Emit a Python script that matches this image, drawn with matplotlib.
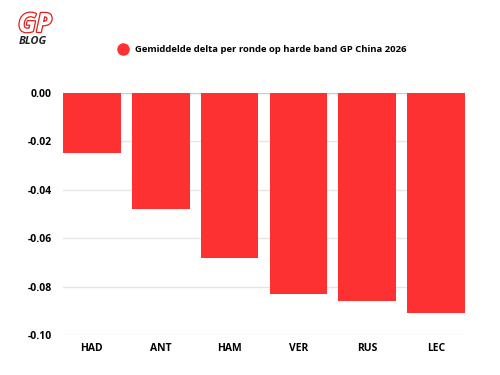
import matplotlib
matplotlib.use('Agg')
import matplotlib.pyplot as plt
import matplotlib.patheffects as pe
from matplotlib.lines import Line2D

drivers = ['HAD', 'ANT', 'HAM', 'VER', 'RUS', 'LEC']
delta = [-0.025, -0.048, -0.068, -0.083, -0.086, -0.091]
yticks = [0.0, -0.02, -0.04, -0.06, -0.08, -0.10]
title = 'Gemiddelde delta per ronde op harde band GP China 2026'

plt.rcParams['font.family'] = ['Open Sans', 'DejaVu Sans']
red = '#fd3131'

fig = plt.figure(figsize=(5, 3.75), dpi=100)
ax = fig.add_axes([0.126, 0.1067, 0.804, 0.6453])

ax.bar(range(len(drivers)), delta, width=0.84, color=red, zorder=3)
ax.set_xlim(-0.42, len(drivers) - 0.58)
ax.set_ylim(-0.10, 0)
ax.set_yticks(yticks)
ax.set_yticklabels(['%.2f' % v for v in yticks])
ax.set_xticks(range(len(drivers)))
ax.set_xticklabels(drivers)

for v in yticks:
    ax.axhline(v, color='#e6e6e6' if v != 0 else '#cccccc', lw=1, zorder=1)

for s in ax.spines.values():
    s.set_visible(False)
ax.tick_params(length=0, labelsize=7.5, pad=8)
for lab in ax.get_xticklabels() + ax.get_yticklabels():
    lab.set_fontweight('bold')
ax.tick_params(axis='x', pad=6)

# legend
fig.legend(handles=[Line2D([], [], marker='o', color=red, ls='', markersize=8)],
           labels=[title], loc='center', bbox_to_anchor=(0.52, 0.867),
           frameon=False, handletextpad=0.3, prop={'weight': 'bold', 'size': 6.8})

# logo
fig.text(0.036, 0.935, 'GP', fontsize=19, fontweight='bold', fontstyle='italic',
         color='white', ha='left', va='center',
         path_effects=[pe.withStroke(linewidth=1.8, foreground='#e01e1e')])
fig.text(0.037, 0.888, 'BLOG', fontsize=8, fontweight='bold', fontstyle='italic',
         color='#222222', ha='left', va='center')

fig.savefig('out.png')
